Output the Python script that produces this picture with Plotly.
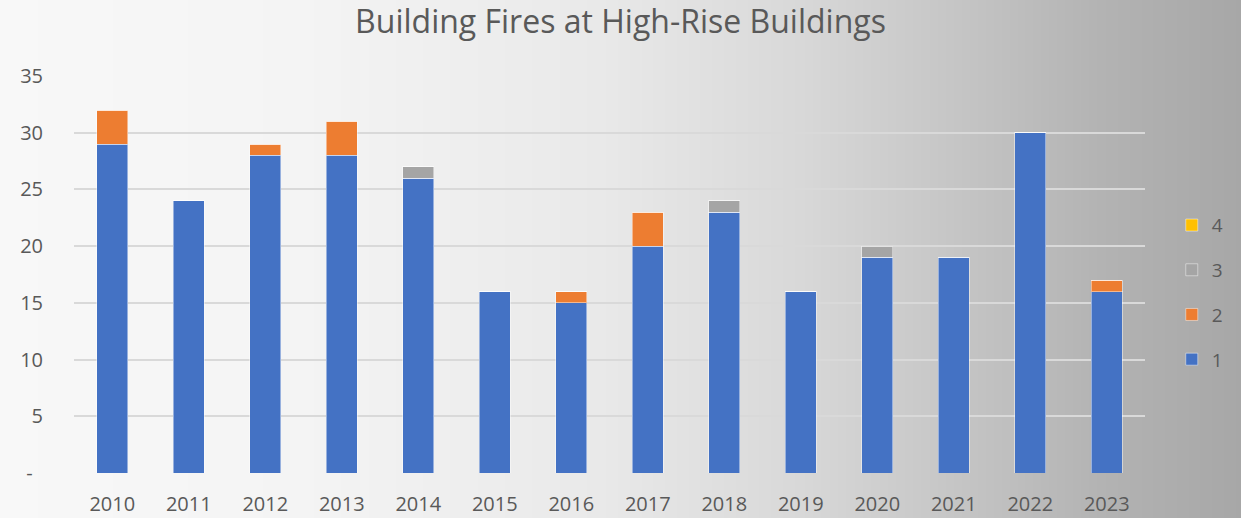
import base64, struct, zlib
import plotly.graph_objects as go

years = ["2010", "2011", "2012", "2013", "2014", "2015", "2016",
         "2017", "2018", "2019", "2020", "2021", "2022", "2023"]
s1 = [29, 24, 28, 28, 26, 16, 15, 20, 23, 16, 19, 19, 30, 16]
s2 = [3, 0, 1, 3, 0, 0, 1, 3, 0, 0, 0, 0, 0, 1]
s3 = [0, 0, 0, 0, 1, 0, 0, 0, 1, 0, 1, 0, 0, 0]
s4 = [0, 0, 0, 0, 0, 0, 0, 0, 0, 0, 0, 0, 0, 0]
series_names = ["1", "2", "3", "4"]
series_colors = ["#4472C4", "#ED7D31", "#A5A5A5", "#FFC000"]
ytick_vals = [0, 5, 10, 15, 20, 25, 30, 35]
ytick_text = ["-\u00a0\u00a0", "5", "10", "15", "20", "25", "30", "35"]

W, H = 1241, 518
ML, MR, MT, MB = 74, 96, 76, 45

# background gradient image (white on left to grey on right)
stops = [(0, 248), (300, 244), (600, 233), (800, 216), (950, 198), (1100, 179), (1241, 167)]
def grey(x):
    for (x0, g0), (x1, g1) in zip(stops, stops[1:]):
        if x0 <= x <= x1:
            return int(round(g0 + (g1 - g0) * (x - x0) / (x1 - x0)))
    return stops[-1][1]
row = bytearray([0])
for x in range(W):
    g = grey(x)
    row += bytes([g, g, g])
raw = bytes(row) * 2
def chunk(t, d):
    c = struct.pack(">I", len(d)) + t + d
    return c + struct.pack(">I", zlib.crc32(t + d) & 0xffffffff)
png = b"\x89PNG\r\n\x1a\n" + chunk(b"IHDR", struct.pack(">IIBBBBB", W, 2, 8, 2, 0, 0, 0)) \
    + chunk(b"IDAT", zlib.compress(raw)) + chunk(b"IEND", b"")
img_uri = "data:image/png;base64," + base64.b64encode(png).decode()

pw, ph = W - ML - MR, H - MT - MB

fig = go.Figure()
for i, (name, vals, col) in enumerate(zip(series_names, [s1, s2, s3, s4], series_colors)):
    fig.add_trace(go.Bar(
        x=years, y=vals, name=name,
        marker=dict(color=col, line=dict(color="rgba(255,255,255,0.45)", width=1)),
        legendgroup=name, legendrank=10 - i,
    ))

fig.update_layout(
    width=W, height=H,
    barmode="stack", bargap=0.6,
    margin=dict(l=ML, r=MR, t=MT, b=MB, autoexpand=False),
    paper_bgcolor="rgba(0,0,0,0)", plot_bgcolor="rgba(0,0,0,0)",
    font=dict(family="Open Sans", color="#595959"),
    title=dict(text="Building Fires at High-Rise Buildings", x=0.5, xref="container",
               xanchor="center", y=0.957, yanchor="middle",
               font=dict(size=32, color="#595959", family="Open Sans")),
    images=[dict(source=img_uri, xref="paper", yref="paper",
                 x=-ML / pw, y=1 + MT / ph, sizex=W / pw, sizey=H / ph,
                 xanchor="left", yanchor="top", sizing="stretch", layer="below")],
    legend=dict(x=1.025, xanchor="left", y=0.672, yanchor="top",
                font=dict(size=19, color="#595959"), tracegroupgap=17,
                bgcolor="rgba(0,0,0,0)"),
    xaxis=dict(showgrid=False, showline=False, zeroline=False, automargin=False,
               ticks="outside", ticklen=13, tickcolor="rgba(0,0,0,0)",
               tickfont=dict(size=20, color="#595959")),
    yaxis=dict(range=[0, 35], tickvals=ytick_vals, ticktext=ytick_text,
               showgrid=True, gridcolor="#d9d9d9", gridwidth=1.5, automargin=False,
               zeroline=False, showline=False,
               ticks="outside", ticklen=26, tickcolor="rgba(0,0,0,0)",
               tickfont=dict(size=20, color="#595959")),
)

fig.write_html("out.html", config={"displayModeBar": False},
               post_script="document.body.style.margin='0';document.body.style.overflow='hidden';")
